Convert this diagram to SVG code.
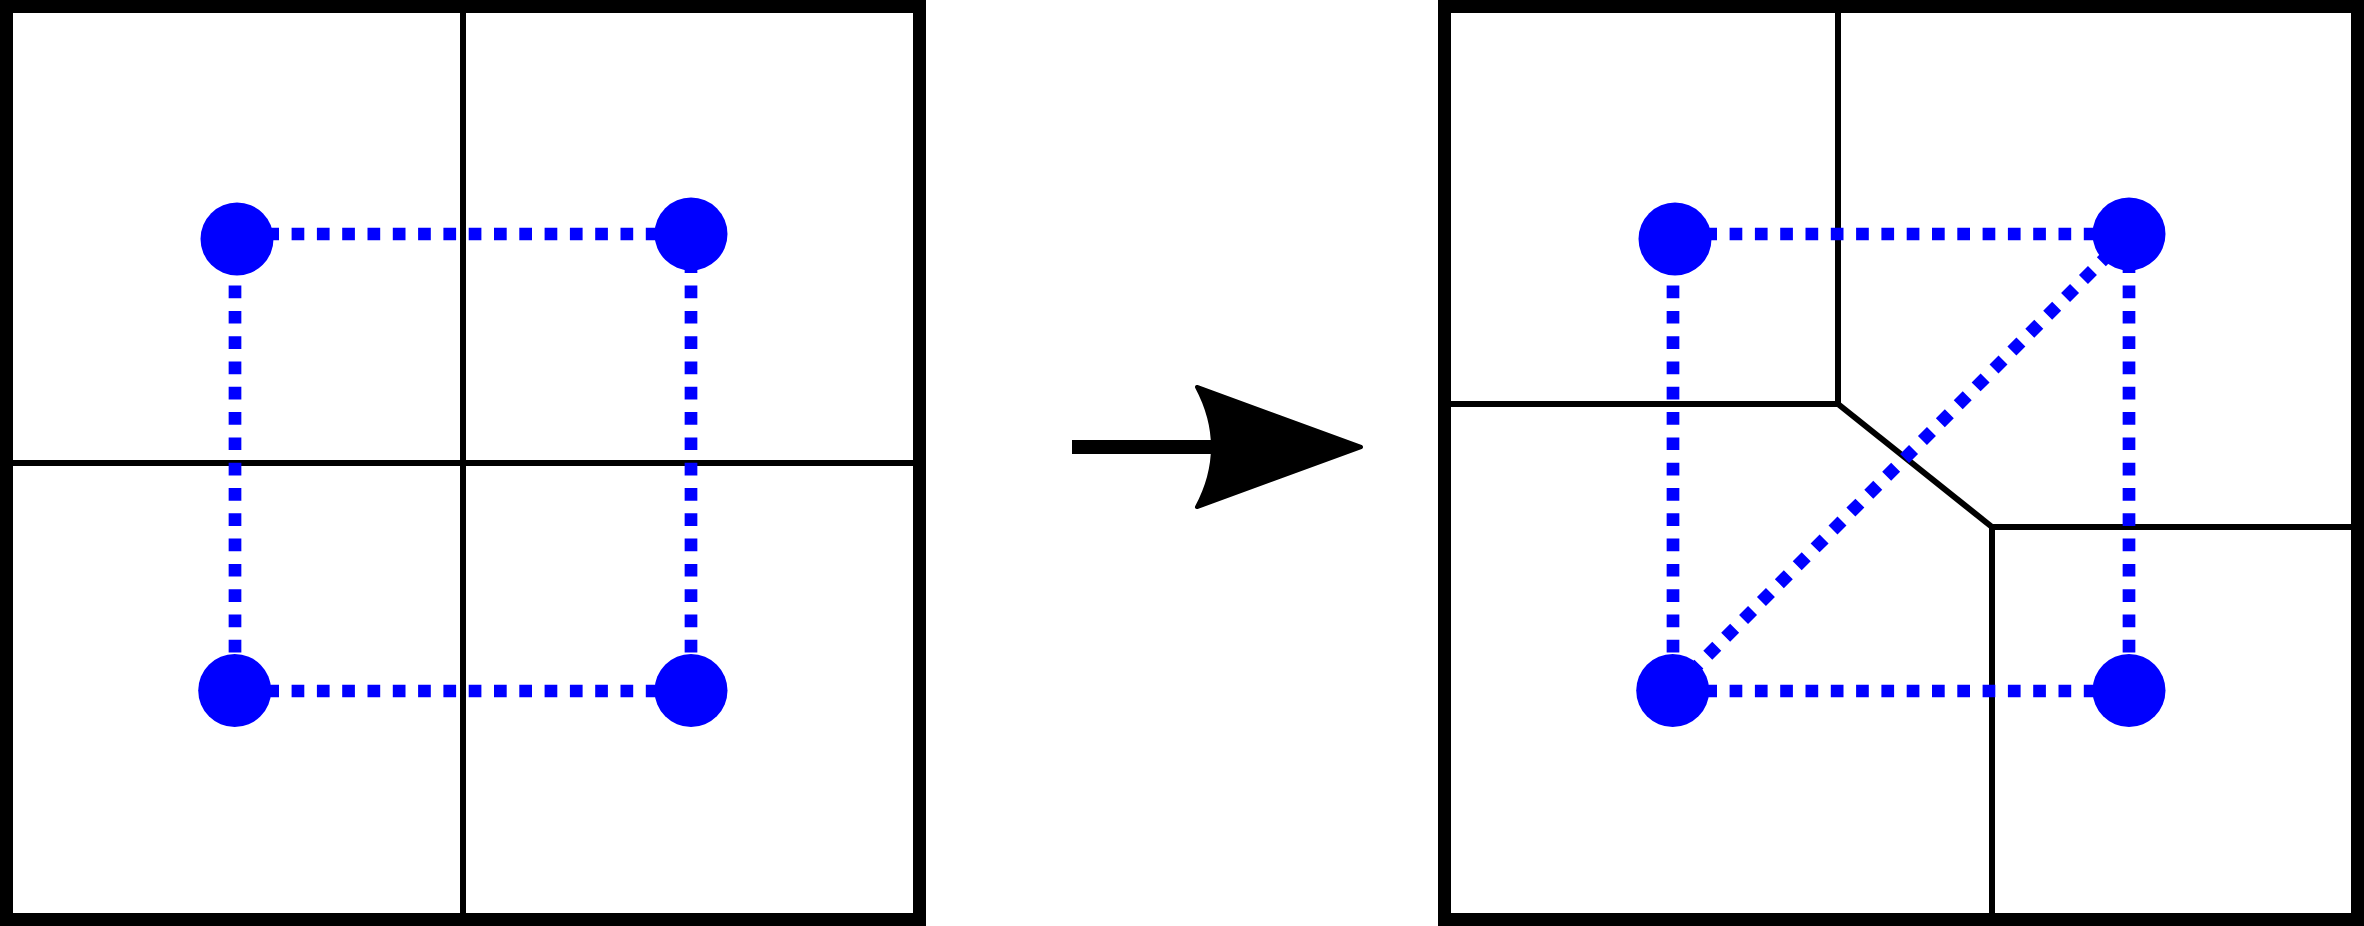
<svg xmlns="http://www.w3.org/2000/svg" width="2364" height="926" viewBox="0 0 2364 926">
<style>
.frame{fill:none;stroke:#000;stroke-width:13}
.cell{fill:none;stroke:#000;stroke-width:6;stroke-linejoin:miter}
.dot{fill:none;stroke:#0000ff;stroke-width:12.7;stroke-dasharray:12.7 12.6}
.node{fill:#0000ff}
</style>
<rect width="2364" height="926" fill="#fff"/>
<g id="left-panel">
<rect class="frame" x="6.5" y="6.5" width="913" height="913"/>
<line class="cell" x1="463" y1="13" x2="463" y2="913"/>
<line class="cell" x1="13" y1="463" x2="913" y2="463"/>
</g>
<g id="right-panel">
<rect class="frame" x="1444.5" y="6.5" width="913" height="913"/>
<polyline class="cell" points="1838,13 1838,404 1451,404"/>
<line class="cell" x1="1838" y1="404" x2="1992" y2="527"/>
<polyline class="cell" points="2351,527 1992,527 1992,913"/>
</g>
<g id="connectors">
<line class="dot" x1="241" y1="234" x2="691" y2="234"/>
<line class="dot" x1="235" y1="235" x2="235" y2="691"/>
<line class="dot" x1="691" y1="235" x2="691" y2="691"/>
<line class="dot" x1="241" y1="691" x2="691" y2="691"/>
<line class="dot" x1="1679" y1="234" x2="2129" y2="234"/>
<line class="dot" x1="1673" y1="235" x2="1673" y2="691"/>
<line class="dot" x1="2129" y1="235" x2="2129" y2="691"/>
<line class="dot" x1="1679" y1="691" x2="2129" y2="691"/>
<line class="dot" x1="1672" y1="691" x2="2129" y2="234"/>
</g>
<g id="arrow">
<line x1="1072" y1="447" x2="1215" y2="447" stroke="#000" stroke-width="14"/>
<path d="M1361,447 L1197,387 Q1229,447 1197,507 Z" fill="#000" stroke="#000" stroke-width="4" stroke-linejoin="round"/>
</g>
<g id="n-left-tl"><circle class="node" cx="237" cy="239" r="36.5"/></g>
<g id="n-left-tr"><circle class="node" cx="691" cy="234" r="36.5"/></g>
<g id="n-left-bl"><circle class="node" cx="234.7" cy="690.5" r="36.5"/></g>
<g id="n-left-br"><circle class="node" cx="691" cy="690.5" r="36.5"/></g>
<g id="n-right-tl"><circle class="node" cx="1675" cy="239" r="36.5"/></g>
<g id="n-right-tr"><circle class="node" cx="2129" cy="234" r="36.5"/></g>
<g id="n-right-bl"><circle class="node" cx="1672.7" cy="690.5" r="36.5"/></g>
<g id="n-right-br"><circle class="node" cx="2129" cy="690.5" r="36.5"/></g>
</svg>
